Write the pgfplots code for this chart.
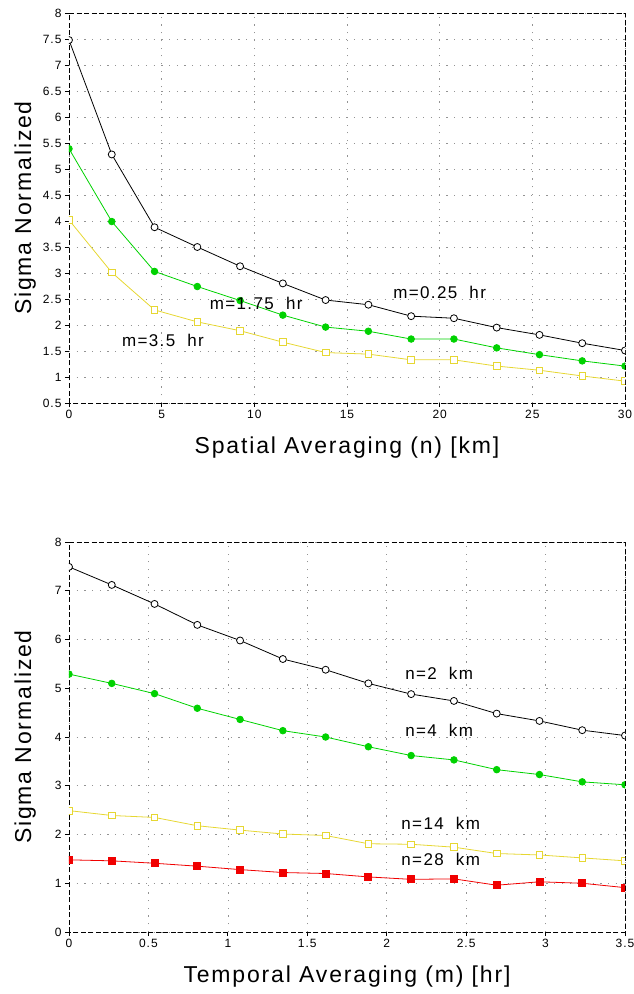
\documentclass[border=0pt]{standalone}
\usepackage{fontspec}
\setmainfont[LetterSpace=8]{Liberation Sans}
\usepackage{pgfplots}
\pgfplotsset{compat=1.18}
\definecolor{ggreen}{RGB}{0,210,0}
\definecolor{gyellow}{RGB}{230,215,50}
\definecolor{gred}{RGB}{240,0,0}
\tikzset{ann/.style={font=\fontsize{17}{20}\selectfont, inner sep=0pt}}
\pgfplotsset{
 myax/.style={
  scale only axis, width=556pt, height=390pt,
  clip marker paths=true,
  axis line style={black, line width=0.8pt, dash pattern=on 5pt off 2.5pt},
  grid=major,
  major grid style={gray!85, line width=0.7pt, dash pattern=on 1.2pt off 6.5pt},
  tick align=outside, tick pos=left,
  major tick length=4pt,
  tick style={black, line width=0.8pt, solid},
  /pgf/number format/assume math mode=true,
  tick label style={font=\fontsize{12}{14}\selectfont},
  label style={font=\fontsize{23}{27}\selectfont},
  xlabel style={at={(axis description cs:0.5,0)}, anchor=center, yshift=-45pt},
  ylabel style={at={(axis description cs:-0.079,0.5)}, anchor=center},
  every axis plot/.append style={line width=0.8pt},
 },
}
\begin{document}
\begin{tikzpicture}
\path[use as bounding box] (-69pt,13pt) rectangle (564pt,-981pt);
\begin{axis}[myax, at={(0pt,0pt)}, anchor=north west,
  xmin=0, xmax=30, ymin=0.5, ymax=8,
  xtick={0,5,10,15,20,25,30}, ytick={0.5,1,...,8},
  xlabel={Spatial Averaging (n) [km]}, ylabel={Sigma Normalized}]
\addplot[gyellow, mark=square*, mark options={fill=white, draw=gyellow, solid}, mark size=3.3pt] coordinates {
(0,4.02) (2.308,3.01) (4.615,2.29) (6.923,2.06) (9.231,1.89) (11.538,1.67) (13.846,1.47)
(16.154,1.44) (18.462,1.33) (20.769,1.33) (23.077,1.21) (25.385,1.13) (27.692,1.02) (30,0.92)};
\addplot[ggreen, mark=*, mark options={fill=ggreen, draw=ggreen}, mark size=3.3pt] coordinates {
(0,5.39) (2.308,3.99) (4.615,3.03) (6.923,2.74) (9.231,2.47) (11.538,2.19) (13.846,1.96)
(16.154,1.88) (18.462,1.73) (20.769,1.73) (23.077,1.56) (25.385,1.43) (27.692,1.31) (30,1.21)};
\addplot[black, mark=*, mark options={fill=white, draw=black}, mark size=3.5pt] coordinates {
(0,7.48) (2.308,5.28) (4.615,3.88) (6.923,3.50) (9.231,3.13) (11.538,2.80) (13.846,2.48)
(16.154,2.39) (18.462,2.17) (20.769,2.13) (23.077,1.95) (25.385,1.81) (27.692,1.65) (30,1.51)};
\node[ann] at (axis cs:20,2.62) {m=0.25\ \ hr};
\node[ann] at (axis cs:10.1,2.42) {m=1.75\ \ hr};
\node[ann] at (axis cs:5.07,1.71) {m=3.5\ \ hr};
\end{axis}
\begin{axis}[myax, at={(0pt,-529pt)}, anchor=north west,
  xmin=0, xmax=3.5, ymin=0, ymax=8,
  xtick={0,0.5,...,3.5}, ytick={0,1,...,8},
  xlabel={Temporal Averaging (m) [hr]}, ylabel={Sigma Normalized}]
\addplot[gred, mark=square*, mark options={fill=gred, draw=gred}, mark size=3.5pt] coordinates {
(0,1.48) (0.2692,1.46) (0.5385,1.41) (0.8077,1.35) (1.0769,1.28) (1.3462,1.22) (1.6154,1.20)
(1.8846,1.13) (2.1538,1.08) (2.4231,1.09) (2.6923,0.96) (2.9615,1.03) (3.2308,1.00) (3.5,0.91)};
\addplot[gyellow, mark=square*, mark options={fill=white, draw=gyellow, solid}, mark size=3.3pt] coordinates {
(0,2.49) (0.2692,2.39) (0.5385,2.35) (0.8077,2.18) (1.0769,2.09) (1.3462,2.01) (1.6154,1.98)
(1.8846,1.81) (2.1538,1.80) (2.4231,1.74) (2.6923,1.61) (2.9615,1.58) (3.2308,1.52) (3.5,1.46)};
\addplot[ggreen, mark=*, mark options={fill=ggreen, draw=ggreen}, mark size=3.3pt] coordinates {
(0,5.29) (0.2692,5.10) (0.5385,4.89) (0.8077,4.59) (1.0769,4.36) (1.3462,4.13) (1.6154,4.00)
(1.8846,3.80) (2.1538,3.62) (2.4231,3.53) (2.6923,3.33) (2.9615,3.23) (3.2308,3.08) (3.5,3.02)};
\addplot[black, mark=*, mark options={fill=white, draw=black}, mark size=3.5pt] coordinates {
(0,7.49) (0.2692,7.12) (0.5385,6.73) (0.8077,6.30) (1.0769,5.98) (1.3462,5.60) (1.6154,5.38)
(1.8846,5.10) (2.1538,4.88) (2.4231,4.74) (2.6923,4.48) (2.9615,4.33) (3.2308,4.14) (3.5,4.03)};
\node[ann] at (axis cs:2.33,5.30) {n=2\ \ km};
\node[ann] at (axis cs:2.33,4.14) {n=4\ \ km};
\node[ann] at (axis cs:2.34,2.23) {n=14\ \ km};
\node[ann] at (axis cs:2.34,1.48) {n=28\ \ km};
\end{axis}
\end{tikzpicture}
\end{document}
